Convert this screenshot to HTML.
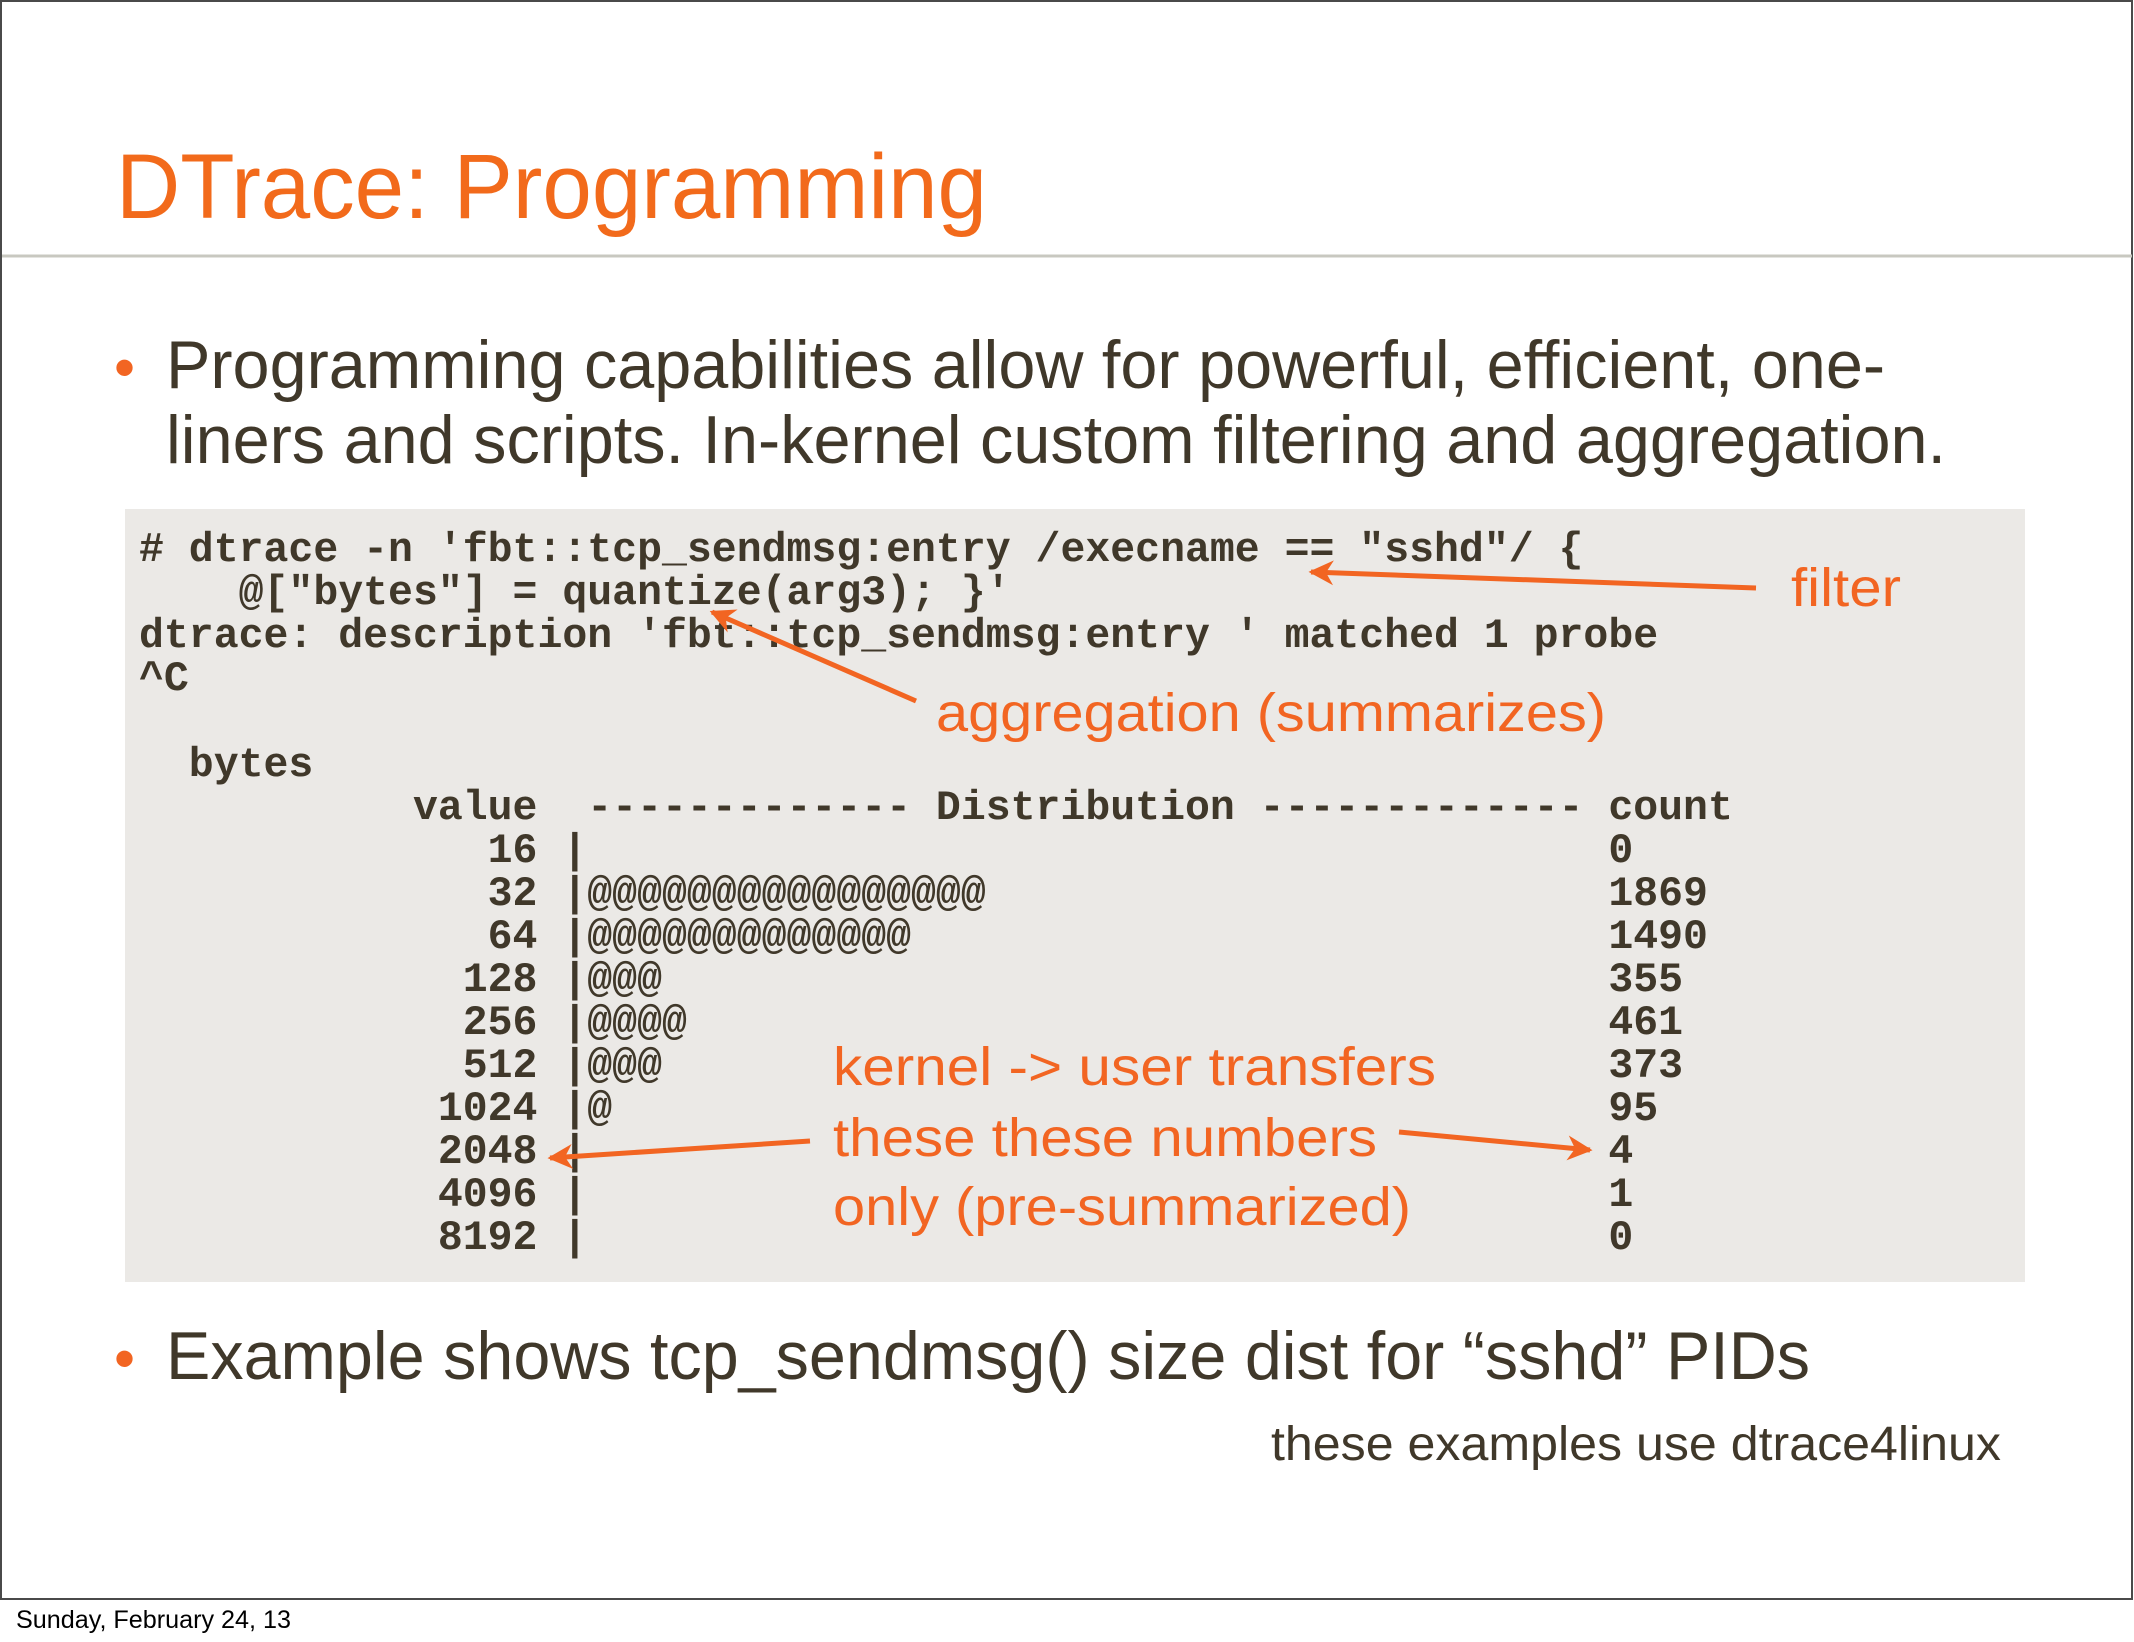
<!DOCTYPE html>
<html><head><meta charset="utf-8"><style>html,body{margin:0;padding:0;background:#fff}svg{display:block}.pre text{white-space:pre}</style></head>
<body>
<svg width="2134" height="1642" viewBox="0 0 2134 1642" xmlns="http://www.w3.org/2000/svg">
<defs>
<marker id="ah" viewBox="0 0 10 10" refX="9" refY="5" markerWidth="6" markerHeight="5" orient="auto-start-reverse" markerUnits="strokeWidth">
<path d="M0,0 L10,5 L0,10 L3,5 z" fill="#f26522"/></marker>
</defs>
<rect x="0" y="0" width="2134" height="1642" fill="#fff"/>
<rect x="1" y="1" width="2131" height="1598" fill="#fff" stroke="#4a4a4a" stroke-width="2"/>
<text x="116" y="218" font-family="Liberation Sans, sans-serif" font-size="92" fill="#f26a1b" textLength="871" lengthAdjust="spacingAndGlyphs">DTrace: Programming</text>
<line x1="2" y1="256" x2="2132" y2="256" stroke="#c8c8c0" stroke-width="3"/>
<g font-family="Liberation Sans, sans-serif" fill="#40382a">
<text x="114" y="388" font-size="60" fill="#f26522">•</text>
<text x="166" y="388" font-size="68" textLength="1719" lengthAdjust="spacingAndGlyphs">Programming capabilities allow for powerful, efficient, one-</text>
<text x="166" y="463" font-size="68" textLength="1780" lengthAdjust="spacingAndGlyphs">liners and scripts. In-kernel custom filtering and aggregation.</text>
<text x="114" y="1379" font-size="60" fill="#f26522">•</text>
<text x="166" y="1379" font-size="68" textLength="1644" lengthAdjust="spacingAndGlyphs">Example shows tcp_sendmsg() size dist for “sshd” PIDs</text>
<text x="1271" y="1460" font-size="48" textLength="730" lengthAdjust="spacingAndGlyphs">these examples use dtrace4linux</text>
</g>
<rect x="125" y="509" width="1900" height="773" fill="#ebe9e6"/>
<g class="pre" font-family="Liberation Mono, monospace" font-weight="bold" font-size="41.5" fill="#40382a">
<text x="139" y="561"># dtrace -n 'fbt::tcp_sendmsg:entry /execname == "sshd"/ {</text>
<text x="139" y="604">    @["bytes"] = quantize(arg3); }'</text>
<text x="139" y="647">dtrace: description 'fbt::tcp_sendmsg:entry ' matched 1 probe</text>
<text x="139" y="690">^C</text>
<text x="139" y="776">  bytes</text>
<text x="139" y="819">           value  ------------- Distribution ------------- count</text>
<text x="139" y="862">              16 |                                         0</text>
<text x="139" y="905">              32 |@@@@@@@@@@@@@@@@                         1869</text>
<text x="139" y="948">              64 |@@@@@@@@@@@@@                            1490</text>
<text x="139" y="991">             128 |@@@                                      355</text>
<text x="139" y="1034">             256 |@@@@                                     461</text>
<text x="139" y="1077">             512 |@@@                                      373</text>
<text x="139" y="1120">            1024 |@                                        95</text>
<text x="139" y="1163">            2048 |                                         4</text>
<text x="139" y="1206">            4096 |                                         1</text>
<text x="139" y="1249">            8192 |                                         0</text>
</g>
<g font-family="Liberation Sans, sans-serif" fill="#f26522" font-size="54">
<text x="1791" y="606" textLength="110" lengthAdjust="spacingAndGlyphs">filter</text>
<text x="936" y="731" textLength="670" lengthAdjust="spacingAndGlyphs">aggregation (summarizes)</text>
<text x="833" y="1085" textLength="603" lengthAdjust="spacingAndGlyphs">kernel -&gt; user transfers</text>
<text x="833" y="1156" textLength="544" lengthAdjust="spacingAndGlyphs">these these numbers</text>
<text x="833" y="1225" textLength="578" lengthAdjust="spacingAndGlyphs">only (pre-summarized)</text>
</g>
<g stroke="#f26522" stroke-width="5" fill="none">
<line x1="1756" y1="588" x2="1311" y2="572" marker-end="url(#ah)"/>
<line x1="916" y1="701" x2="712" y2="612" marker-end="url(#ah)"/>
<line x1="810" y1="1141" x2="550" y2="1158" marker-end="url(#ah)"/>
<line x1="1399" y1="1132" x2="1590" y2="1150" marker-end="url(#ah)"/>
</g>
<text x="16" y="1628" font-family="Liberation Sans, sans-serif" font-size="25" fill="#000" textLength="275" lengthAdjust="spacingAndGlyphs">Sunday, February 24, 13</text>
</svg>
</body></html>
